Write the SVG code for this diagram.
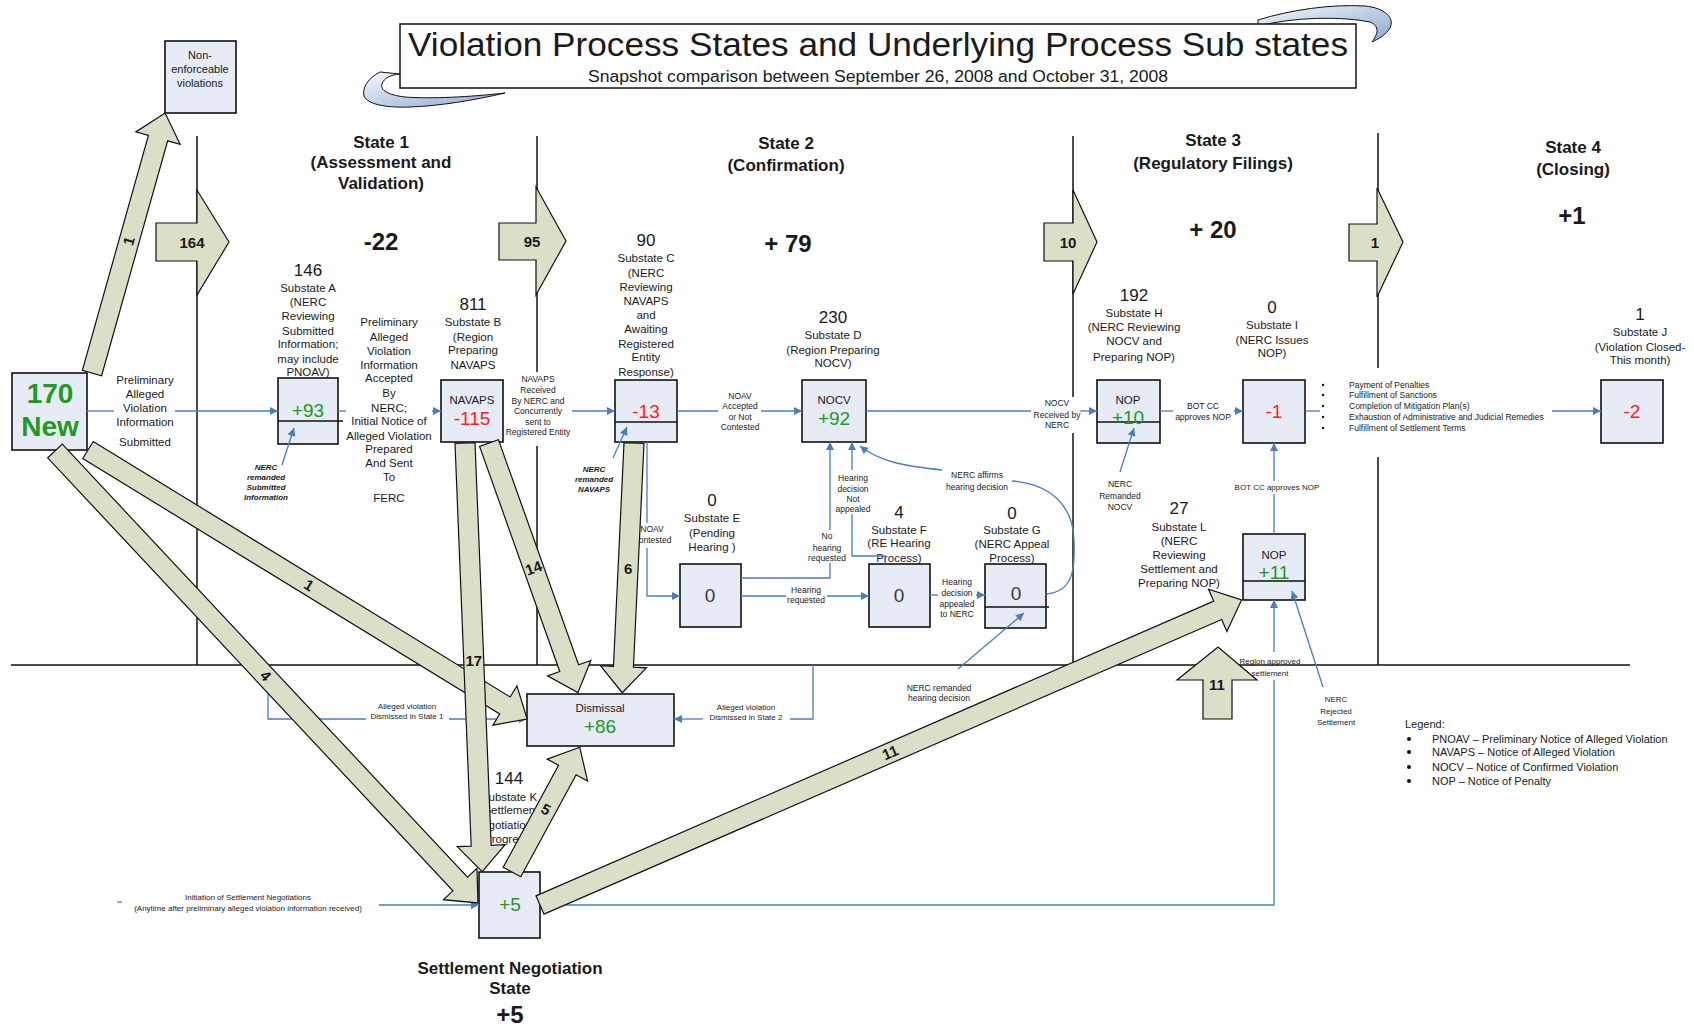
<svg xmlns="http://www.w3.org/2000/svg" width="1694" height="1026" viewBox="0 0 1694 1026">
<defs>
<linearGradient id="scr" x1="0" y1="0" x2="1" y2="1"><stop offset="0" stop-color="#f4f7fc"/><stop offset="1" stop-color="#8ea8d2"/></linearGradient>
<marker id="ah" viewBox="0 0 10 10" refX="10" refY="5" markerWidth="9" markerHeight="8" markerUnits="userSpaceOnUse" orient="auto"><path d="M0,0 L10,5 L0,10 Z" fill="#4a7ebb"/></marker>
<style>
text{font-family:"Liberation Sans",Arial,sans-serif;text-anchor:middle;fill:#1a1a1a}
.box{fill:#e6ebf5;stroke:#111;stroke-width:1.6}
.blk{fill:#dcdfc7;stroke:#111;stroke-width:1.2}
.ln{stroke:#4a7ebb;stroke-width:1.3;fill:none}
.la{marker-end:url(#ah)}
.sl{stroke:#111;stroke-width:1.5;fill:none}
.dv{stroke:#111;stroke-width:1.5}
.t12{font-size:11.5px}
.t11{font-size:11px}
.t8{font-size:8.5px}
.t8i{font-size:8px;font-style:italic;font-weight:bold}
.num{font-size:17px}
.big{font-size:19px}
.g{fill:#229922}
.r{fill:#ff1f1f}
.gy{fill:#3a3a3a}
.hd{font-size:17px;font-weight:bold}
.hv{font-size:24px;font-weight:bold}
.al{font-size:15px;font-weight:bold}
.lg{font-size:11px;text-anchor:start}
.bl{font-size:8.5px;text-anchor:start}
</style>
</defs>
<rect width="1694" height="1026" fill="#fff"/>

<g id="title">
<path d="M380,72 C368,78 362,88 364,96 C367,104 385,108 410,107 C440,106 475,100 505,93 C470,97 430,99 405,97 C388,95 380,90 382,84 C384,78 390,75 400,74 Z" fill="url(#scr)" stroke="#111" stroke-width="1"/>
<path d="M1258,20 C1290,10 1330,4 1365,6 C1385,8 1395,18 1390,28 C1386,35 1378,39 1372,42 C1378,34 1380,26 1370,22 C1340,16 1295,17 1258,26 Z" fill="url(#scr)" stroke="#111" stroke-width="1"/>
<rect x="400" y="24" width="956" height="64" fill="#fff" stroke="#111" stroke-width="1.5"/>
<text x="878" y="56" font-size="33" textLength="940" lengthAdjust="spacingAndGlyphs">Violation Process States and Underlying Process Sub states</text>
<text x="878" y="82" font-size="16" textLength="580" lengthAdjust="spacingAndGlyphs">Snapshot comparison between September 26, 2008 and October 31, 2008</text>
</g>

<g id="state-lines">
<line class="sl" x1="197" y1="136" x2="197" y2="665"/>
<line class="sl" x1="537" y1="136" x2="537" y2="372"/>
<line class="sl" x1="537" y1="446" x2="537" y2="665"/>
<line class="sl" x1="1073" y1="136" x2="1073" y2="397"/>
<line class="sl" x1="1073" y1="433" x2="1073" y2="665"/>
<line class="sl" x1="1378" y1="133" x2="1378" y2="368"/>
<line class="sl" x1="1378" y1="457" x2="1378" y2="665"/>
<line class="sl" x1="11" y1="665" x2="1630" y2="665"/>
</g>

<g id="state-headers">
<text class="hd" x="381" y="148">State 1</text>
<text class="hd" x="381" y="168">(Assessment and</text>
<text class="hd" x="381" y="189">Validation)</text>
<text class="hv" x="381" y="250">-22</text>
<text class="hd" x="786" y="149">State 2</text>
<text class="hd" x="786" y="171">(Confirmation)</text>
<text class="hv" x="788" y="252">+ 79</text>
<text class="hd" x="1213" y="146">State 3</text>
<text class="hd" x="1213" y="169">(Regulatory Filings)</text>
<text class="hv" x="1213" y="238">+ 20</text>
<text class="hd" x="1573" y="153">State 4</text>
<text class="hd" x="1573" y="175">(Closing)</text>
<text class="hv" x="1572" y="224">+1</text>
<text class="hd" x="510" y="974">Settlement Negotiation</text>
<text class="hd" x="510" y="994">State</text>
<text class="hv" x="510" y="1023">+5</text>
</g>

<g id="node-nonenforceable">
<rect class="box" x="165" y="41" width="71" height="72"/>
<text class="t11" x="200" y="59">Non-</text>
<text class="t11" x="200" y="73">enforceable</text>
<text class="t11" x="200" y="87">violations</text>
</g>

<g id="node-new">
<rect class="box" x="12" y="373" width="75" height="77"/>
<text x="50" y="403" font-size="28" font-weight="bold" class="g">170</text>
<text x="50" y="436" font-size="28" font-weight="bold" class="g">New</text>
</g>

<g id="node-A">
<text class="num" x="308" y="276">146</text>
<text class="t12" x="308" y="292">Substate A</text>
<text class="t12" x="308" y="306">(NERC</text>
<text class="t12" x="308" y="320">Reviewing</text>
<text class="t12" x="308" y="335">Submitted</text>
<text class="t12" x="308" y="348">Information;</text>
<text class="t12" x="308" y="363">may include</text>
<text class="t12" x="308" y="376">PNOAV)</text>
<rect class="box" x="278" y="378" width="60" height="66"/>
<line class="dv" x1="278" y1="421" x2="343" y2="421"/>
<text class="big g" x="308" y="417">+93</text>
</g>

<g id="node-B">
<text class="num" x="473" y="310">811</text>
<text class="t12" x="473" y="326">Substate B</text>
<text class="t12" x="473" y="341">(Region</text>
<text class="t12" x="473" y="354">Preparing</text>
<text class="t12" x="473" y="369">NAVAPS</text>
<rect class="box" x="441" y="380" width="62" height="62"/>
<text class="t12" x="472" y="404">NAVAPS</text>
<text class="big r" x="472" y="425">-115</text>
</g>

<g id="node-C">
<text class="num" x="646" y="246">90</text>
<text class="t12" x="646" y="262">Substate C</text>
<text class="t12" x="646" y="277">(NERC</text>
<text class="t12" x="646" y="291">Reviewing</text>
<text class="t12" x="646" y="305">NAVAPS</text>
<text class="t12" x="646" y="319">and</text>
<text class="t12" x="646" y="333">Awaiting</text>
<text class="t12" x="646" y="348">Registered</text>
<text class="t12" x="646" y="361">Entity</text>
<text class="t12" x="646" y="376">Response)</text>
<rect class="box" x="615" y="380" width="62" height="62"/>
<line class="dv" x1="615" y1="422" x2="677" y2="422"/>
<text class="big r" x="646" y="418">-13</text>
</g>

<g id="node-D">
<text class="num" x="833" y="323">230</text>
<text class="t12" x="833" y="339">Substate D</text>
<text class="t12" x="833" y="354">(Region Preparing</text>
<text class="t12" x="833" y="367">NOCV)</text>
<rect class="box" x="802" y="380" width="64" height="62"/>
<text class="t12" x="834" y="404">NOCV</text>
<text class="big g" x="834" y="425">+92</text>
</g>

<g id="node-E">
<text class="num" x="712" y="506">0</text>
<text class="t12" x="712" y="522">Substate E</text>
<text class="t12" x="712" y="537">(Pending</text>
<text class="t12" x="712" y="551">Hearing )</text>
<rect class="box" x="680" y="564" width="61" height="63"/>
<text class="big gy" x="710" y="602">0</text>
</g>

<g id="node-F">
<text class="num" x="899" y="518">4</text>
<text class="t12" x="899" y="534">Substate F</text>
<text class="t12" x="899" y="547">(RE Hearing</text>
<text class="t12" x="899" y="562">Process)</text>
<rect class="box" x="869" y="564" width="61" height="63"/>
<text class="big gy" x="899" y="602">0</text>
</g>

<g id="node-G">
<text class="num" x="1012" y="519">0</text>
<text class="t12" x="1012" y="534">Substate G</text>
<text class="t12" x="1012" y="548">(NERC Appeal</text>
<text class="t12" x="1012" y="562">Process)</text>
<rect class="box" x="985" y="564" width="61" height="64"/>
<line class="dv" x1="985" y1="607" x2="1049" y2="607"/>
<text class="big gy" x="1016" y="600">0</text>
</g>

<g id="node-H">
<text class="num" x="1134" y="301">192</text>
<text class="t12" x="1134" y="317">Substate H</text>
<text class="t12" x="1134" y="331">(NERC Reviewing</text>
<text class="t12" x="1134" y="345">NOCV and</text>
<text class="t12" x="1134" y="361">Preparing NOP)</text>
<rect class="box" x="1097" y="380" width="63" height="63"/>
<line class="dv" x1="1097" y1="422" x2="1160" y2="422"/>
<text class="t12" x="1128" y="404">NOP</text>
<text class="big g" x="1128" y="424">+10</text>
</g>

<g id="node-I">
<text class="num" x="1272" y="313">0</text>
<text class="t12" x="1272" y="329">Substate I</text>
<text class="t12" x="1272" y="344">(NERC Issues</text>
<text class="t12" x="1272" y="357">NOP)</text>
<rect class="box" x="1243" y="380" width="62" height="63"/>
<text class="big r" x="1274" y="418">-1</text>
</g>

<g id="node-J">
<text class="num" x="1640" y="320">1</text>
<text class="t12" x="1640" y="336">Substate J</text>
<text class="t12" x="1640" y="351">(Violation Closed-</text>
<text class="t12" x="1640" y="364">This month)</text>
<rect class="box" x="1601" y="380" width="62" height="63"/>
<text class="big r" x="1632" y="418">-2</text>
</g>

<g id="node-K">
<text class="num" x="509" y="784">144</text>
<text class="t12" x="509" y="801">Substate K</text>
<text class="t12" x="509" y="814">(Settlement</text>
<text class="t12" x="509" y="829">Negotiation in</text>
<text class="t12" x="509" y="843">Progress)</text>
<rect class="box" x="479" y="872" width="61" height="66"/>
<text class="big g" x="510" y="911">+5</text>
</g>

<g id="node-L">
<text class="num" x="1179" y="514">27</text>
<text class="t12" x="1179" y="531">Substate L</text>
<text class="t12" x="1179" y="545">(NERC</text>
<text class="t12" x="1179" y="559">Reviewing</text>
<text class="t12" x="1179" y="573">Settlement and</text>
<text class="t12" x="1179" y="587">Preparing NOP)</text>
<rect class="box" x="1243" y="534" width="62" height="66"/>
<line class="dv" x1="1243" y1="581" x2="1305" y2="581"/>
<text class="t12" x="1274" y="559">NOP</text>
<text class="big g" x="1274" y="579">+11</text>
</g>

<g id="node-dismissal">
<rect class="box" x="527" y="694" width="147" height="52"/>
<text class="t12" x="600" y="712">Dismissal</text>
<text class="big g" x="600" y="733">+86</text>
</g>

<g id="connectors">
<!-- New -> A -->
<path class="ln" d="M87,411 L114,411"/>
<path class="ln la" d="M175,411 L278,411"/>
<text class="t12" x="145" y="384">Preliminary</text>
<text class="t12" x="145" y="398">Alleged</text>
<text class="t12" x="145" y="412">Violation</text>
<text class="t12" x="145" y="426">Information</text>
<text class="t12" x="145" y="446">Submitted</text>
<!-- A remanded -->
<path class="ln la" d="M282,465 L294,428"/>
<text class="t8i" x="266" y="470">NERC</text>
<text class="t8i" x="266" y="480">remanded</text>
<text class="t8i" x="266" y="490">Submitted</text>
<text class="t8i" x="266" y="500">Information</text>
<!-- A -> B -->
<path class="ln" d="M338,411 L346,411"/>
<path class="ln la" d="M432,411 L441,411"/>
<text class="t12" x="389" y="326">Preliminary</text>
<text class="t12" x="389" y="341">Alleged</text>
<text class="t12" x="389" y="355">Violation</text>
<text class="t12" x="389" y="369">Information</text>
<text class="t12" x="389" y="382">Accepted</text>
<text class="t12" x="389" y="397">By</text>
<text class="t12" x="389" y="412">NERC;</text>
<text class="t12" x="389" y="425">Initial Notice of</text>
<text class="t12" x="389" y="440">Alleged Violation</text>
<text class="t12" x="389" y="453">Prepared</text>
<text class="t12" x="389" y="467">And Sent</text>
<text class="t12" x="389" y="481">To</text>
<text class="t12" x="389" y="502">FERC</text>
<!-- B -> C -->
<path class="ln la" d="M572,411 L615,411"/>
<text class="t8" x="538" y="382">NAVAPS</text>
<text class="t8" x="538" y="393">Received</text>
<text class="t8" x="538" y="404">By NERC and</text>
<text class="t8" x="538" y="414">Concurrently</text>
<text class="t8" x="538" y="425">sent to</text>
<text class="t8" x="538" y="435">Registered Entity</text>
<!-- C remanded -->
<path class="ln la" d="M613,458 L627,427"/>
<text class="t8i" x="594" y="472">NERC</text>
<text class="t8i" x="594" y="482">remanded</text>
<text class="t8i" x="594" y="492">NAVAPS</text>
<!-- C -> D -->
<path class="ln" d="M677,411 L718,411"/>
<path class="ln la" d="M761,411 L802,411"/>
<text class="t8" x="740" y="399">NOAV</text>
<text class="t8" x="740" y="409">Accepted</text>
<text class="t8" x="740" y="420">or Not</text>
<text class="t8" x="740" y="430">Contested</text>
<!-- D -> H -->
<path class="ln" d="M866,411 L1031,411"/>
<path class="ln la" d="M1080,411 L1097,411"/>
<text class="t8" x="1057" y="406">NOCV</text>
<text class="t8" x="1057" y="418">Received by</text>
<text class="t8" x="1057" y="428">NERC</text>
<!-- H remanded -->
<path class="ln la" d="M1120,472 L1134,428"/>
<text class="t8" x="1120" y="487">NERC</text>
<text class="t8" x="1120" y="499">Remanded</text>
<text class="t8" x="1120" y="510">NOCV</text>
<!-- H -> I -->
<path class="ln" d="M1160,411 L1173,411"/>
<path class="ln la" d="M1234,411 L1243,411"/>
<text class="t8" x="1203" y="409">BOT CC</text>
<text class="t8" x="1203" y="420">approves NOP</text>
<!-- I -> J -->
<path class="ln" d="M1305,411 L1320,411"/>
<path class="ln la" d="M1552,411 L1601,411"/>
<g fill="#111"><circle cx="1323" cy="385" r="1.2"/><circle cx="1323" cy="395" r="1.2"/><circle cx="1323" cy="406" r="1.2"/><circle cx="1323" cy="417" r="1.2"/><circle cx="1323" cy="428" r="1.2"/></g>
<text class="bl" x="1349" y="388">Payment of Penalties</text>
<text class="bl" x="1349" y="398">Fulfillment of Sanctions</text>
<text class="bl" x="1349" y="409">Completion of Mitigation Plan(s)</text>
<text class="bl" x="1349" y="420">Exhaustion of Administrative and Judicial Remedies</text>
<text class="bl" x="1349" y="431">Fulfillment of Settlement Terms</text>
<!-- C -> E -->
<path class="ln" d="M647,442 L647,523"/>
<path class="ln la" d="M647,548 L647,596 L680,596"/>
<text class="t8" x="652" y="532">NOAV</text>
<text class="t8" x="652" y="543">Contested</text>
<!-- E -> F -->
<path class="ln" d="M741,596 L786,596"/>
<path class="ln la" d="M827,596 L869,596"/>
<text class="t8" x="806" y="593">Hearing</text>
<text class="t8" x="806" y="603">requested</text>
<!-- E -> D -->
<path class="ln" d="M741,578 L830,578 L830,563"/>
<path class="ln la" d="M830,530 L830,442"/>
<text class="t8" x="827" y="539">No</text>
<text class="t8" x="827" y="551">hearing</text>
<text class="t8" x="827" y="561">requested</text>
<!-- F -> D -->
<path class="ln" d="M885,564 L885,556 L852,556 L852,514"/>
<path class="ln la" d="M852,470 L852,442"/>
<text class="t8" x="853" y="481">Hearing</text>
<text class="t8" x="853" y="492">decision</text>
<text class="t8" x="853" y="502">Not</text>
<text class="t8" x="853" y="512">appealed</text>
<!-- F -> G -->
<path class="ln" d="M930,595 L938,595"/>
<path class="ln la" d="M976,595 L985,595"/>
<text class="t8" x="957" y="585">Hearing</text>
<text class="t8" x="957" y="596">decision</text>
<text class="t8" x="957" y="607">appealed</text>
<text class="t8" x="957" y="617">to NERC</text>
<!-- G -> D affirms -->
<path class="ln" d="M1046,594 C1075,592 1075,565 1074,540 C1073,505 1050,484 1012,481"/>
<path class="ln la" d="M942,470 C905,466 880,462 860,446"/>
<text class="t8" x="977" y="478">NERC affirms</text>
<text class="t8" x="977" y="490">hearing decision</text>
<!-- G remanded -->
<path class="ln la" d="M958,669 L1024,613"/>
<text class="t8" x="939" y="691">NERC remanded</text>
<text class="t8" x="939" y="701">hearing decision</text>
<!-- dismissed state 1 -->
<path class="ln" d="M268,665 L268,719 L366,719"/>
<path class="ln la" d="M449,719 L527,719"/>
<text font-size="8" x="407" y="709">Alleged violation</text>
<text font-size="8" x="407" y="719">Dismissed in State 1</text>
<!-- dismissed state 2 -->
<path class="ln" d="M813,665 L813,719 L790,719"/>
<path class="ln la" d="M703,719 L674,719"/>
<text font-size="8" x="746" y="710">Alleged violation</text>
<text font-size="8" x="746" y="720">Dismissed in State 2</text>
<!-- initiation -->
<path class="ln" d="M117,902 L122,902"/>
<path class="ln la" d="M379,905 L479,905"/>
<text font-size="8" x="248" y="900">Initiation of Settlement Negotiations</text>
<text font-size="8" x="248" y="911">(Anytime after preliminary alleged violation information received)</text>
<!-- K -> L -->
<path class="ln" d="M540,905 L1274,905 L1274,680"/>
<path class="ln la" d="M1274,652 L1274,600"/>
<text font-size="8" x="1270" y="664">Region approved</text>
<text font-size="8" x="1270" y="676">settlement</text>
<!-- L -> I -->
<path class="ln" d="M1274,534 L1274,494"/>
<path class="ln la" d="M1274,481 L1274,443"/>
<text font-size="8" x="1277" y="490">BOT CC approves NOP</text>
<!-- L rejected -->
<path class="ln la" d="M1323,687 L1292,591"/>
<text font-size="8" x="1336" y="702">NERC</text>
<text font-size="8" x="1336" y="714">Rejected</text>
<text font-size="8" x="1336" y="725">Settlement</text>

<!-- state transition arrows -->
<polygon class="blk" points="156,223 197,223 197,190 229,242 197,295 197,261 156,261"/>
<text class="al" x="192" y="248">164</text>
<polygon class="blk" points="499,223 536,223 536,187 566,241 536,295 536,260 499,260"/>
<text class="al" x="532" y="247">95</text>
<polygon class="blk" points="1044,223 1073,223 1073,190 1097,242 1073,294 1073,261 1044,261"/>
<text class="al" x="1068" y="248">10</text>
<polygon class="blk" points="1349,224 1377,224 1377,188 1403,242 1377,297 1377,261 1349,261"/>
<text class="al" x="1375" y="248">1</text>
<polygon class="blk" points="1203,719 1203,680 1177,680 1218,647 1257,680 1232,680 1232,719"/>
<text class="al" x="1217" y="690">11</text>

<!-- flow arrows -->
<g transform="translate(92,373) rotate(-74.3)"><polygon class="blk" points="0,-10 244,-10 244,-23 270,0 244,23 244,10 0,10"/><text class="al" x="137" y="5">1</text></g>
<g transform="translate(55,451) rotate(46.9)"><polygon class="blk" points="0,-10 593,-10 593,-23 619,0 593,23 593,10 0,10"/><text class="al" x="308" y="5">4</text></g>
<g transform="translate(88,450) rotate(31.5)"><polygon class="blk" points="0,-10 489,-10 489,-23 515,0 489,23 489,10 0,10"/><text class="al" x="259" y="5">1</text></g>
<g transform="translate(465,443) rotate(87.7)"><polygon class="blk" points="0,-10 403,-10 403,-24 429,0 403,24 403,10 0,10"/><text class="al" transform="translate(218,0) rotate(-87.7)" y="5">17</text></g>
<g transform="translate(489,443) rotate(70.4)"><polygon class="blk" points="0,-10 239,-10 239,-23 265,0 239,23 239,10 0,10"/><text class="al" transform="translate(133,0) rotate(-90)" y="5">14</text></g>
<g transform="translate(634,443) rotate(92.7)"><polygon class="blk" points="0,-10 224,-10 224,-23 250,0 224,23 224,10 0,10"/><text class="al" transform="translate(126,0) rotate(-92.7)" y="5">6</text></g>
<g transform="translate(512,872) rotate(-61.5)"><polygon class="blk" points="0,-10 116,-10 116,-23 142,0 116,23 116,10 0,10"/><text class="al" transform="translate(71,0) rotate(90)" y="5">5</text></g>
<g transform="translate(540,905) rotate(-23.5)"><polygon class="blk" points="0,-10 739,-10 739,-23 765,0 739,23 739,10 0,10"/><text class="al" x="382" y="5">11</text></g>
</g>

<g id="legend">
<text class="lg" x="1405" y="728">Legend:</text>
<g fill="#111"><circle cx="1409" cy="739" r="2"/><circle cx="1409" cy="752" r="2"/><circle cx="1409" cy="767" r="2"/><circle cx="1409" cy="781" r="2"/></g>
<text class="lg" x="1432" y="743">PNOAV – Preliminary Notice of Alleged Violation</text>
<text class="lg" x="1432" y="756">NAVAPS – Notice of Alleged Violation</text>
<text class="lg" x="1432" y="771">NOCV – Notice of Confirmed Violation</text>
<text class="lg" x="1432" y="785">NOP – Notice of Penalty</text>
</g>
</svg>
